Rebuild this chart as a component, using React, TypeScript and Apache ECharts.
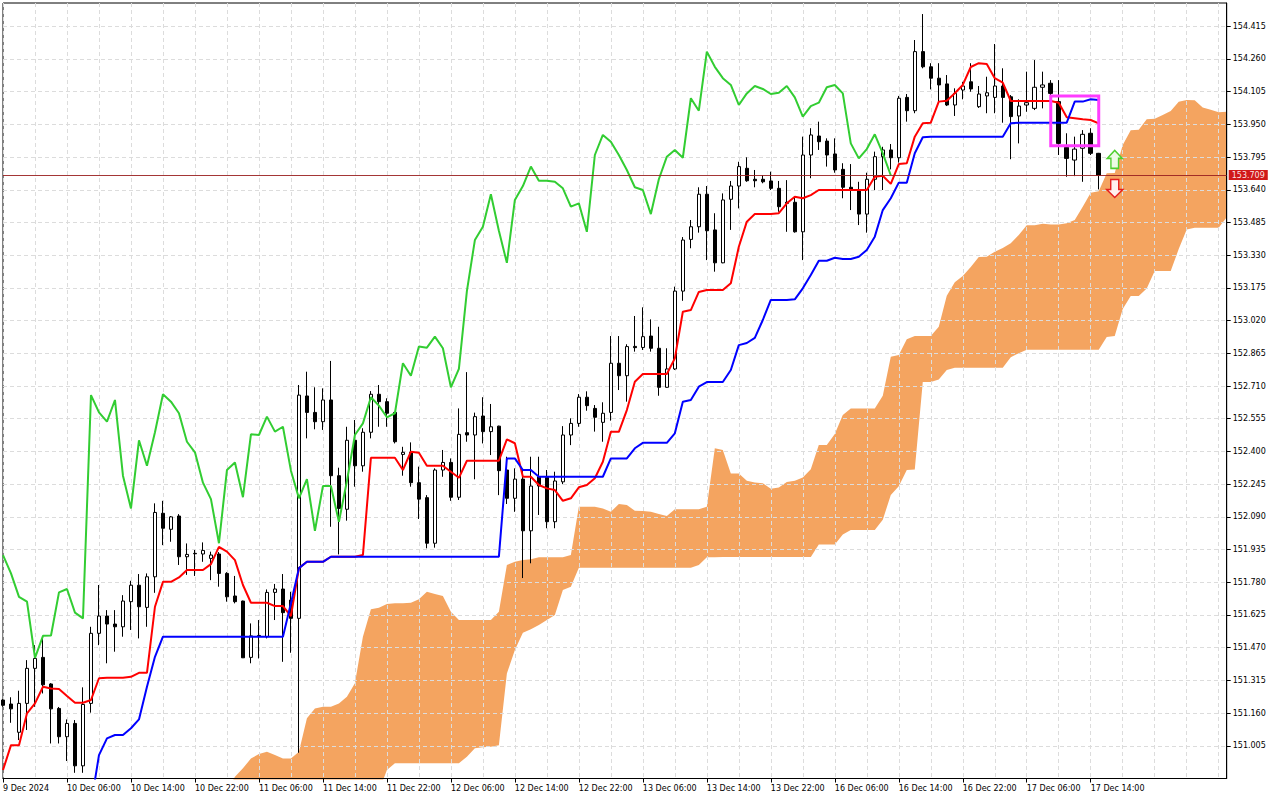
import React, { useEffect, useRef } from "react";
import * as echarts from "echarts";

// ---- axis texts ----
const tickLabels = [
  "9 Dec 2024", "10 Dec 06:00", "10 Dec 14:00", "10 Dec 22:00", "11 Dec 06:00", "11 Dec 14:00",
  "11 Dec 22:00", "12 Dec 06:00", "12 Dec 14:00", "12 Dec 22:00", "13 Dec 06:00", "13 Dec 14:00",
  "13 Dec 22:00", "16 Dec 06:00", "16 Dec 14:00", "16 Dec 22:00", "17 Dec 06:00", "17 Dec 14:00",
];
const yTicks = [
  151.005, 151.16, 151.315, 151.47, 151.625, 151.78, 151.935, 152.09, 152.245, 152.4, 152.555, 152.71,
  152.865, 153.02, 153.175, 153.33, 153.485, 153.64, 153.795, 153.95, 154.105, 154.26, 154.415,
];
const bidPrice = 153.709;

// ---- H1 candles ----
const opens = [
  151.222, 151.203, 151.069, 151.206, 151.372, 151.424, 151.298, 151.182, 151.048, 151.111,
  150.910, 151.206, 151.538, 151.620, 151.582, 151.569, 151.688, 151.766, 151.661, 151.806,
  152.107, 152.031, 152.094, 151.901, 151.917, 151.914, 151.893, 151.914, 151.822, 151.715,
  151.691, 151.424, 151.526, 151.522, 151.732, 151.748, 151.696, 151.609, 152.663, 152.585,
  152.541, 152.644, 152.285, 152.126, 152.453, 152.332, 152.491, 152.671, 152.636, 152.585,
  152.386, 152.396, 152.252, 152.181, 151.965, 152.312, 152.348, 152.183, 152.489, 152.478,
  152.568, 152.494, 152.520, 152.312, 152.178, 152.269, 152.024, 152.280, 152.277, 152.067,
  152.256, 152.478, 152.533, 152.657, 152.604, 152.538, 152.585, 152.818, 152.759, 152.898,
  152.893, 152.947, 152.889, 152.704, 152.791, 153.160, 153.405, 153.465, 153.619, 153.450,
  153.294, 153.595, 153.658, 153.742, 153.690, 153.690, 153.682, 153.647, 153.581, 153.581,
  153.441, 153.805, 153.895, 153.871, 153.810, 153.737, 153.652, 153.639, 153.525, 153.690,
  153.797, 153.829, 153.792, 154.078, 154.015, 154.295, 154.223, 154.169, 154.142, 154.042,
  154.113, 154.152, 154.034, 154.085, 154.078, 154.132, 154.081, 153.990, 154.042, 154.026,
  154.126, 154.145, 154.058, 153.841, 153.781, 153.837, 153.908, 153.813,
];
const closes = [
  151.197, 151.180, 151.206, 151.372, 151.419, 151.294, 151.180, 151.048, 151.111, 150.910,
  151.201, 151.538, 151.620, 151.582, 151.569, 151.691, 151.766, 151.664, 151.806, 152.111,
  152.036, 152.090, 151.901, 151.912, 151.915, 151.931, 151.909, 151.822, 151.711, 151.688,
  151.422, 151.526, 151.528, 151.732, 151.748, 151.636, 151.609, 152.667, 152.585, 152.541,
  152.644, 152.285, 152.130, 152.453, 152.332, 152.491, 152.671, 152.636, 152.581, 152.446,
  152.396, 152.252, 152.174, 151.965, 152.312, 152.348, 152.183, 152.481, 152.478, 152.565,
  152.494, 152.517, 152.309, 152.178, 152.269, 152.024, 152.236, 152.236, 152.067, 152.260,
  152.478, 152.533, 152.657, 152.617, 152.562, 152.581, 152.818, 152.759, 152.897, 152.892,
  152.944, 152.889, 152.704, 152.791, 153.160, 153.402, 153.465, 153.619, 153.446, 153.294,
  153.592, 153.658, 153.750, 153.683, 153.683, 153.678, 153.647, 153.560, 153.576, 153.441,
  153.805, 153.900, 153.868, 153.805, 153.734, 153.652, 153.639, 153.525, 153.690, 153.797,
  153.829, 153.792, 154.074, 154.015, 154.295, 154.223, 154.169, 154.137, 154.042, 154.097,
  154.132, 154.118, 154.094, 154.100, 154.132, 154.078, 153.987, 154.037, 154.053, 154.126,
  154.137, 154.097, 153.860, 153.789, 153.833, 153.903, 153.813, 153.709,
];
const lows = [
  151.190, 151.114, 151.032, 151.080, 151.190, 151.253, 151.016, 151.016, 150.933, 150.877,
  150.877, 151.162, 151.482, 151.396, 151.451, 151.522, 151.554, 151.514, 151.569, 151.730,
  151.956, 151.972, 151.862, 151.815, 151.810, 151.877, 151.790, 151.759, 151.688, 151.680,
  151.421, 151.396, 151.419, 151.514, 151.601, 151.403, 151.446, 150.972, 152.462, 152.505,
  152.502, 152.043, 151.912, 152.072, 152.233, 152.304, 152.462, 152.517, 152.517, 152.438,
  152.285, 152.233, 152.080, 151.941, 151.944, 152.280, 152.166, 152.170, 152.446, 152.268,
  152.438, 152.383, 152.193, 152.151, 152.114, 151.800, 151.870, 152.099, 152.036, 152.036,
  152.245, 152.430, 152.517, 152.593, 152.494, 152.446, 152.546, 152.691, 152.636, 152.873,
  152.881, 152.873, 152.664, 152.702, 152.786, 153.114, 153.363, 153.437, 153.307, 153.252,
  153.292, 153.450, 153.552, 153.678, 153.652, 153.671, 153.639, 153.536, 153.441, 153.437,
  153.307, 153.695, 153.829, 153.750, 153.721, 153.600, 153.544, 153.473, 153.437, 153.639,
  153.639, 153.737, 153.769, 153.963, 154.003, 154.216, 154.116, 154.053, 154.037, 153.990,
  154.069, 154.105, 154.028, 154.003, 154.003, 153.958, 153.785, 153.860, 154.010, 154.018,
  154.026, 154.085, 153.805, 153.702, 153.705, 153.678, 153.805, 153.642,
];
const highs = [
  151.226, 151.235, 151.266, 151.411, 151.482, 151.514, 151.302, 151.189, 151.130, 151.127,
  151.282, 151.569, 151.767, 151.648, 151.648, 151.719, 151.787, 151.819, 151.822, 152.154,
  152.166, 152.094, 152.103, 151.964, 151.933, 151.969, 151.925, 151.923, 151.828, 151.810,
  151.693, 151.585, 151.601, 151.746, 151.772, 151.819, 151.735, 152.715, 152.778, 152.704,
  152.699, 152.829, 152.323, 152.517, 152.549, 152.510, 152.686, 152.715, 152.652, 152.588,
  152.422, 152.443, 152.328, 152.193, 152.320, 152.407, 152.367, 152.604, 152.776, 152.584,
  152.657, 152.625, 152.522, 152.375, 152.320, 152.312, 152.375, 152.375, 152.312, 152.304,
  152.520, 152.557, 152.672, 152.685, 152.620, 152.633, 152.947, 152.947, 152.908, 153.042,
  153.083, 153.026, 152.991, 152.889, 153.181, 153.416, 153.497, 153.652, 153.658, 153.529,
  153.623, 153.682, 153.773, 153.794, 153.734, 153.710, 153.726, 153.682, 153.686, 153.607,
  153.892, 153.932, 153.963, 153.884, 153.884, 153.766, 153.762, 153.678, 153.721, 153.821,
  153.844, 153.857, 154.085, 154.094, 154.350, 154.473, 154.240, 154.240, 154.184, 154.121,
  154.152, 154.240, 154.132, 154.176, 154.331, 154.216, 154.089, 154.069, 154.200, 154.255,
  154.200, 154.160, 154.160, 153.908, 153.892, 153.923, 153.932, 153.815,
];

// ---- Ichimoku lines ----
const tenkan = [
  150.890, 151.008, 151.008, 151.159, 151.206, 151.285, 151.277, 151.274, 151.241, 151.209,
  151.209, 151.222, 151.325, 151.327, 151.327, 151.327, 151.332, 151.351, 151.351, 151.664,
  151.782, 151.782, 151.803, 151.838, 151.838, 151.838, 151.866, 151.948, 151.925, 151.885,
  151.767, 151.683, 151.683, 151.683, 151.667, 151.667, 151.620, 151.847, 151.877, 151.877,
  151.877, 151.901, 151.901, 151.901, 151.901, 151.909, 152.370, 152.370, 152.370, 152.370,
  152.312, 152.399, 152.394, 152.332, 152.332, 152.332, 152.304, 152.275, 152.356, 152.356,
  152.356, 152.356, 152.356, 152.457, 152.439, 152.280, 152.280, 152.241, 152.225, 152.217,
  152.166, 152.178, 152.230, 152.241, 152.273, 152.351, 152.493, 152.493, 152.596, 152.730,
  152.767, 152.767, 152.767, 152.767, 152.841, 153.062, 153.070, 153.156, 153.165, 153.165,
  153.165, 153.197, 153.370, 153.489, 153.525, 153.525, 153.525, 153.529, 153.576, 153.607,
  153.600, 153.615, 153.639, 153.639, 153.639, 153.639, 153.639, 153.639, 153.639, 153.702,
  153.707, 153.668, 153.762, 153.766, 153.892, 153.955, 153.958, 154.058, 154.062, 154.098,
  154.137, 154.222, 154.240, 154.236, 154.169, 154.148, 154.061, 154.061, 154.061, 154.061,
  154.061, 154.061, 154.053, 153.984, 153.979, 153.974, 153.971, 153.955,
];
const kijun = [
  null, null, null, null, null, null, null, null, null, null,
  null, 150.724, 150.961, 151.040, 151.056, 151.056, 151.088, 151.130, 151.285, 151.427,
  151.522, 151.522, 151.522, 151.522, 151.522, 151.522, 151.522, 151.522, 151.522, 151.522,
  151.522, 151.522, 151.522, 151.522, 151.522, 151.522, 151.681, 151.847, 151.877, 151.877,
  151.877, 151.901, 151.901, 151.901, 151.901, 151.901, 151.901, 151.901, 151.901, 151.901,
  151.901, 151.901, 151.901, 151.901, 151.901, 151.901, 151.901, 151.901, 151.901, 151.901,
  151.901, 151.901, 151.901, 152.367, 152.367, 152.312, 152.312, 152.280, 152.280, 152.280,
  152.280, 152.280, 152.280, 152.280, 152.280, 152.280, 152.367, 152.367, 152.367, 152.415,
  152.441, 152.441, 152.441, 152.441, 152.486, 152.636, 152.644, 152.707, 152.729, 152.729,
  152.729, 152.786, 152.904, 152.914, 152.938, 153.023, 153.118, 153.118, 153.118, 153.121,
  153.173, 153.236, 153.304, 153.304, 153.318, 153.312, 153.312, 153.323, 153.355, 153.418,
  153.544, 153.600, 153.674, 153.674, 153.813, 153.889, 153.892, 153.892, 153.892, 153.892,
  153.892, 153.892, 153.892, 153.892, 153.892, 153.892, 153.955, 153.958, 153.958, 153.958,
  153.958, 153.958, 153.958, 153.958, 154.058, 154.058, 154.069, 154.066,
];
// Chikou span = closes drawn 26 bars back
const chikouShift = 26;

// ---- Kumo (cloud) edges, incl. 26 bars ahead ----
const kumoUpper = [
  null, null, null, null, null, null, null, null, null, null,
  null, null, null, null, null, null, null, null, null, null,
  null, null, null, null, null, null, null, null, 150.790, 150.858,
  150.898, 150.945, 150.966, 150.977, 150.961, 150.945, 150.945, 150.977, 151.135, 151.182,
  151.190, 151.190, 151.206, 151.237, 151.301, 151.522, 151.652, 151.659, 151.677, 151.680,
  151.680, 151.683, 151.699, 151.735, 151.724, 151.715, 151.640, 151.601, 151.601, 151.601,
  151.601, 151.601, 151.640, 151.862, 151.877, 151.885, 151.889, 151.898, 151.898, 151.898,
  151.898, 151.909, 152.138, 152.138, 152.138, 152.130, 152.114, 152.151, 152.146, 152.119,
  152.118, 152.114, 152.103, 152.094, 152.126, 152.126, 152.126, 152.126, 152.138, 152.415,
  152.407, 152.296, 152.296, 152.261, 152.253, 152.249, 152.223, 152.229, 152.255, 152.261,
  152.276, 152.316, 152.430, 152.430, 152.483, 152.573, 152.604, 152.604, 152.604, 152.604,
  152.664, 152.849, 152.857, 152.932, 152.947, 152.947, 152.947, 152.991, 153.138, 153.202,
  153.232, 153.274, 153.322, 153.323, 153.347, 153.364, 153.387, 153.426, 153.472, 153.472,
  153.479, 153.476, 153.476, 153.481, 153.497, 153.560, 153.626, 153.633, 153.718, 153.720,
  153.852, 153.922, 153.925, 153.975, 153.977, 153.995, 154.014, 154.057, 154.066, 154.064,
  154.030, 154.020, 154.008, 154.010,
];
const kumoLower = [
  null, null, null, null, null, null, null, null, null, null,
  null, null, null, null, null, null, null, null, null, null,
  null, null, null, null, null, null, null, null, 150.790, 150.790,
  150.790, 150.790, 150.790, 150.790, 150.790, 150.790, 150.790, 150.790, 150.790, 150.790,
  150.790, 150.790, 150.790, 150.790, 150.790, 150.790, 150.790, 150.790, 150.890, 150.922,
  150.922, 150.922, 150.922, 150.922, 150.922, 150.922, 150.922, 150.922, 150.953, 150.993,
  150.998, 151.000, 151.008, 151.348, 151.459, 151.541, 151.557, 151.577, 151.601, 151.625,
  151.743, 151.759, 151.849, 151.849, 151.849, 151.849, 151.849, 151.849, 151.849, 151.849,
  151.849, 151.849, 151.849, 151.849, 151.849, 151.849, 151.849, 151.862, 151.898, 151.898,
  151.900, 151.900, 151.900, 151.900, 151.900, 151.900, 151.900, 151.900, 151.900, 151.900,
  151.900, 151.900, 151.959, 151.959, 151.959, 152.007, 152.028, 152.028, 152.028, 152.028,
  152.076, 152.194, 152.235, 152.312, 152.315, 152.729, 152.729, 152.741, 152.786, 152.797,
  152.797, 152.797, 152.797, 152.797, 152.797, 152.797, 152.846, 152.866, 152.882, 152.882,
  152.882, 152.882, 152.882, 152.882, 152.882, 152.882, 152.882, 152.882, 152.943, 152.947,
  153.075, 153.137, 153.137, 153.172, 153.255, 153.255, 153.255, 153.359, 153.452, 153.460,
  153.460, 153.460, 153.460, 153.510,
];

// ---- annotations ----
const boxFrom = { bar: 131, price: 154.085 };
const boxTo = { bar: 137, price: 153.849 };
const upArrow = { bar: 139, price: 153.784 };
const downArrow = { bar: 139, price: 153.646 };

const MONTHS = ["Jan", "Feb", "Mar", "Apr", "May", "Jun", "Jul", "Aug", "Sep", "Oct", "Nov", "Dec"];
function buildTimes(count: number): string[] {
  const out: string[] = [];
  let t = Date.UTC(2024, 11, 9, 22);
  for (let i = 0; i < count; i++) {
    const d = new Date(t);
    out.push(`${d.getUTCDate()} ${MONTHS[d.getUTCMonth()]} ${String(d.getUTCHours()).padStart(2, "0")}:00`);
    t += 3600e3;
    if (new Date(t).getUTCDay() === 6) t += 48 * 3600e3;
  }
  return out;
}

const FONT = "DejaVu Sans";

export default function App() {
  const ref = useRef<HTMLDivElement>(null);
  useEffect(() => {
    if (!ref.current) return;
    const chart = echarts.init(ref.current, null, { renderer: "svg" });
    const nCat = kumoUpper.length;
    const times = buildTimes(nCat);
    const lastBar = opens.length - 1;
    const candles = opens.map((o, i) => [o, closes[i], lows[i], highs[i]]);
    const chikou = closes.slice(chikouShift);
    const kumoBand = kumoUpper.map((u, i) =>
      u == null || kumoLower[i] == null ? null : +((u as number) - (kumoLower[i] as number)).toFixed(3)
    );
    const grid = { color: "#dcdcdc", type: [4, 3] as any, width: 1 };

    const option: any = {
      animation: false,
      backgroundColor: "#ffffff",
      textStyle: { fontFamily: FONT },
      grid: { left: 2.7, top: 3, width: 1224, height: 775.5, show: true, borderColor: "#000", borderWidth: 1, containLabel: false },
      xAxis: {
        type: "category",
        data: times,
        boundaryGap: false,
        z: 1.5,
        axisLine: { show: true, lineStyle: { color: "#000", width: 1 } },
        axisTick: { show: true, length: 4, interval: (i: number) => i % 8 === 0 && i <= lastBar, lineStyle: { color: "#000" } },
        axisLabel: {
          interval: (i: number) => i % 8 === 0 && i <= lastBar,
          formatter: (_v: string, i: number) => tickLabels[i / 8] ?? "",
          align: "left",
          color: "#000",
          fontSize: 8,
          fontFamily: FONT,
          margin: 6,
        },
        splitLine: { show: true, interval: (i: number) => i % 4 === 0, lineStyle: grid },
      },
      yAxis: {
        type: "value",
        position: "right",
        min: 150.85,
        max: 154.5254,
        interval: 0.155,
        z: 1.5,
        axisLine: { show: true, lineStyle: { color: "#000", width: 1 } },
        axisTick: { show: true, inside: false, length: 4, lineStyle: { color: "#000" }, customValues: yTicks },
        axisLabel: {
          customValues: yTicks,
          formatter: (v: number) => v.toFixed(3),
          color: "#000",
          fontSize: 8,
          fontFamily: FONT,
          margin: 6,
        },
        splitLine: { show: true, lineStyle: grid },
      },
      series: [
        {
          name: "kumoBase",
          type: "line",
          stack: "kumo",
          data: kumoLower,
          symbol: "none",
          silent: true,
          z: 1,
          lineStyle: { opacity: 0 },
        },
        {
          name: "kumo",
          type: "line",
          stack: "kumo",
          data: kumoBand,
          symbol: "none",
          silent: true,
          z: 1,
          lineStyle: { opacity: 0 },
          areaStyle: { color: "#F4A460", opacity: 1 },
        },
        {
          name: "USDJPY,H1",
          type: "candlestick",
          data: candles,
          barWidth: 4,
          z: 2,
          itemStyle: {
            color: "#ffffff",
            color0: "#000000",
            borderColor: "#000000",
            borderColor0: "#000000",
            borderColorDoji: "#000000",
            borderWidth: 1,
          },
          markLine: {
            silent: true,
            symbol: ["none", "none"],
            z: 5,
            lineStyle: { color: "#9a2020", width: 1, type: "solid", opacity: 0.9 },
            label: {
              show: true,
              position: "end",
              distance: 2,
              formatter: bidPrice.toFixed(3),
              color: "#ffffff",
              backgroundColor: "#cc0000",
              padding: [1, 3, 1, 3],
              fontSize: 8,
              fontFamily: FONT,
            },
            data: [{ yAxis: bidPrice }],
          },
          markArea: {
            silent: true,
            z: 6,
            itemStyle: { color: "rgba(0,0,0,0)", borderColor: "#ff3cff", borderWidth: 3 },
            label: { show: false },
            data: [[{ xAxis: boxFrom.bar, yAxis: boxFrom.price }, { xAxis: boxTo.bar, yAxis: boxTo.price }]],
          },
          markPoint: {
            silent: true,
            z: 6,
            label: { show: false },
            data: [
              {
                coord: [upArrow.bar, upArrow.price],
                symbol: "path://M7.5,0 L15,8 L11.3,8 L11.3,18 L3.7,18 L3.7,8 L0,8 Z",
                symbolSize: [15, 18],
                itemStyle: { color: "#eefbe6", borderColor: "#4fcf30", borderWidth: 1.5 },
              },
              {
                coord: [downArrow.bar, downArrow.price],
                symbol: "path://M4,0 L12,0 L12,10 L16,10 L8,18 L0,10 L4,10 Z",
                symbolSize: [16, 18],
                itemStyle: { color: "#fff0ee", borderColor: "#e51e1e", borderWidth: 1.5 },
              },
            ],
          },
        },
        {
          name: "Chikou Span",
          type: "line",
          data: chikou,
          symbol: "none",
          z: 3,
          lineStyle: { color: "#32CD32", width: 2 },
        },
        {
          name: "Tenkan-sen",
          type: "line",
          data: tenkan,
          symbol: "none",
          z: 3,
          lineStyle: { color: "#ff0000", width: 2 },
        },
        {
          name: "Kijun-sen",
          type: "line",
          data: kijun,
          symbol: "none",
          z: 3,
          lineStyle: { color: "#0000ff", width: 2 },
        },
      ],
    };
    chart.setOption(option);
    return () => chart.dispose();
  }, []);
  return (
    <div
      ref={ref}
      style={{ position: "fixed", left: 0, top: 0, width: 1280, height: 800, background: "#fff" }}
    />
  );
}
